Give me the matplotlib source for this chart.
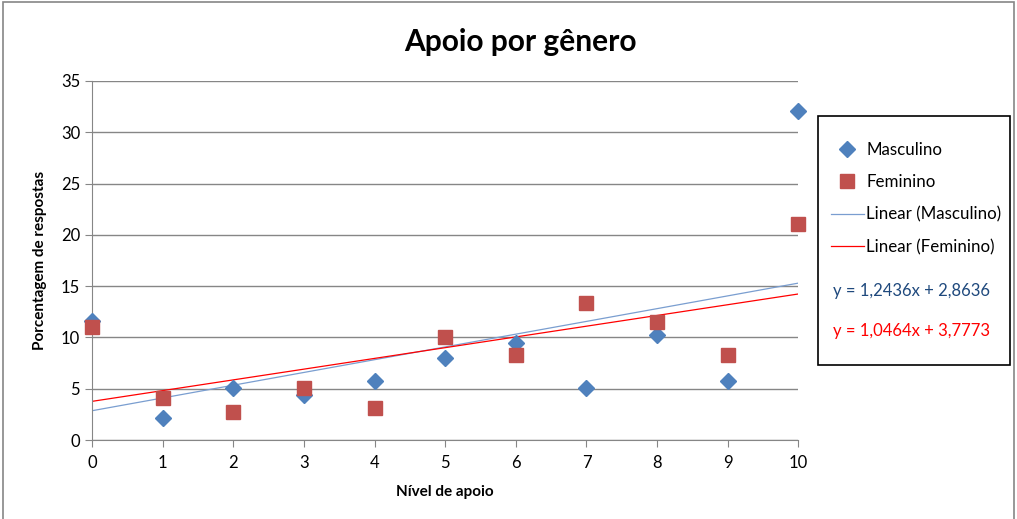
import matplotlib.pyplot as plt
from matplotlib.patches import Rectangle
import numpy as np

# Data
nivel = [0, 1, 2, 3, 4, 5, 6, 7, 8, 9, 10]
masculino = [11.6, 2.15, 5.1, 4.4, 5.8, 8.0, 9.5, 5.1, 10.2, 5.75, 32.1]
feminino = [11.0, 4.1, 2.75, 5.1, 3.1, 10.0, 8.25, 13.4, 11.5, 8.25, 21.1]

# Trendline coefficients shown on the chart (slope, intercept)
coef_masc = [1.2436, 2.8636]
coef_fem = [1.0464, 3.7773]
eq_masc = "y = 1,2436x + 2,8636"
eq_fem = "y = 1,0464x + 3,7773"

plt.rcParams['font.family'] = ['Lato', 'DejaVu Sans']

fig = plt.figure(figsize=(10.17, 5.19), dpi=100)
ax = fig.add_axes([0.0905, 0.152, 0.6945, 0.692])

blue = "#4F81BD"
red = "#C0504D"

ax.plot(nivel, masculino, linestyle="none", marker="D", markersize=8,
        color=blue, label="Masculino", zorder=3, clip_on=False)
ax.plot(nivel, feminino, linestyle="none", marker="s", markersize=10,
        color=red, label="Feminino", zorder=3, clip_on=False)

xs = np.array([nivel[0], nivel[-1]])
ax.plot(xs, np.polyval(coef_masc, xs), color="#7A9ED0", lw=0.9,
        label="Linear (Masculino)", zorder=2)
ax.plot(xs, np.polyval(coef_fem, xs), color="#FF0000", lw=0.9,
        label="Linear (Feminino)", zorder=2)

ax.set_xlim(0, 10)
ax.set_ylim(0, 35)
ax.set_xticks(range(0, 11))
ax.set_yticks(range(0, 36, 5))
ax.yaxis.grid(True, color="#868686", lw=1)
ax.set_axisbelow(True)
for s in ["top", "right"]:
    ax.spines[s].set_visible(False)
for s in ["left", "bottom"]:
    ax.spines[s].set_color("#868686")
ax.tick_params(axis="both", colors="#868686", labelcolor="black",
               labelsize=12, length=5, direction="out")
ax.tick_params(axis="x", pad=6)

ax.set_xlabel("Nível de apoio", fontsize=11, fontweight="bold", labelpad=10)
ax.set_ylabel("Porcentagem de respostas", fontsize=11, fontweight="bold", labelpad=10)
fig.text(0.512, 0.92, "Apoio por gênero", ha="center", va="center",
         fontsize=21.5, fontweight="bold")

# legend box
fig.patches.append(Rectangle((0.804, 0.297), 0.189, 0.48, transform=fig.transFigure,
                             fill=False, edgecolor="black", lw=1.2))
handles, labels = ax.get_legend_handles_labels()
fig.legend(handles, labels, loc="upper left", bbox_to_anchor=(0.817, 0.727),
           frameon=False, fontsize=12.2, handlelength=1.95, labelspacing=0.97,
           handletextpad=0.15, borderaxespad=0, borderpad=0)
fig.text(0.819, 0.439, eq_masc, color="#1F497D", fontsize=12, va="center")
fig.text(0.819, 0.362, eq_fem, color="#FF0000", fontsize=12, va="center")

# outer chart border
fig.patches.append(Rectangle((0.003, -0.01), 0.994, 1.007, transform=fig.transFigure,
                             fill=False, edgecolor="#868686", lw=1.2))

fig.savefig("out.png", dpi=100)
